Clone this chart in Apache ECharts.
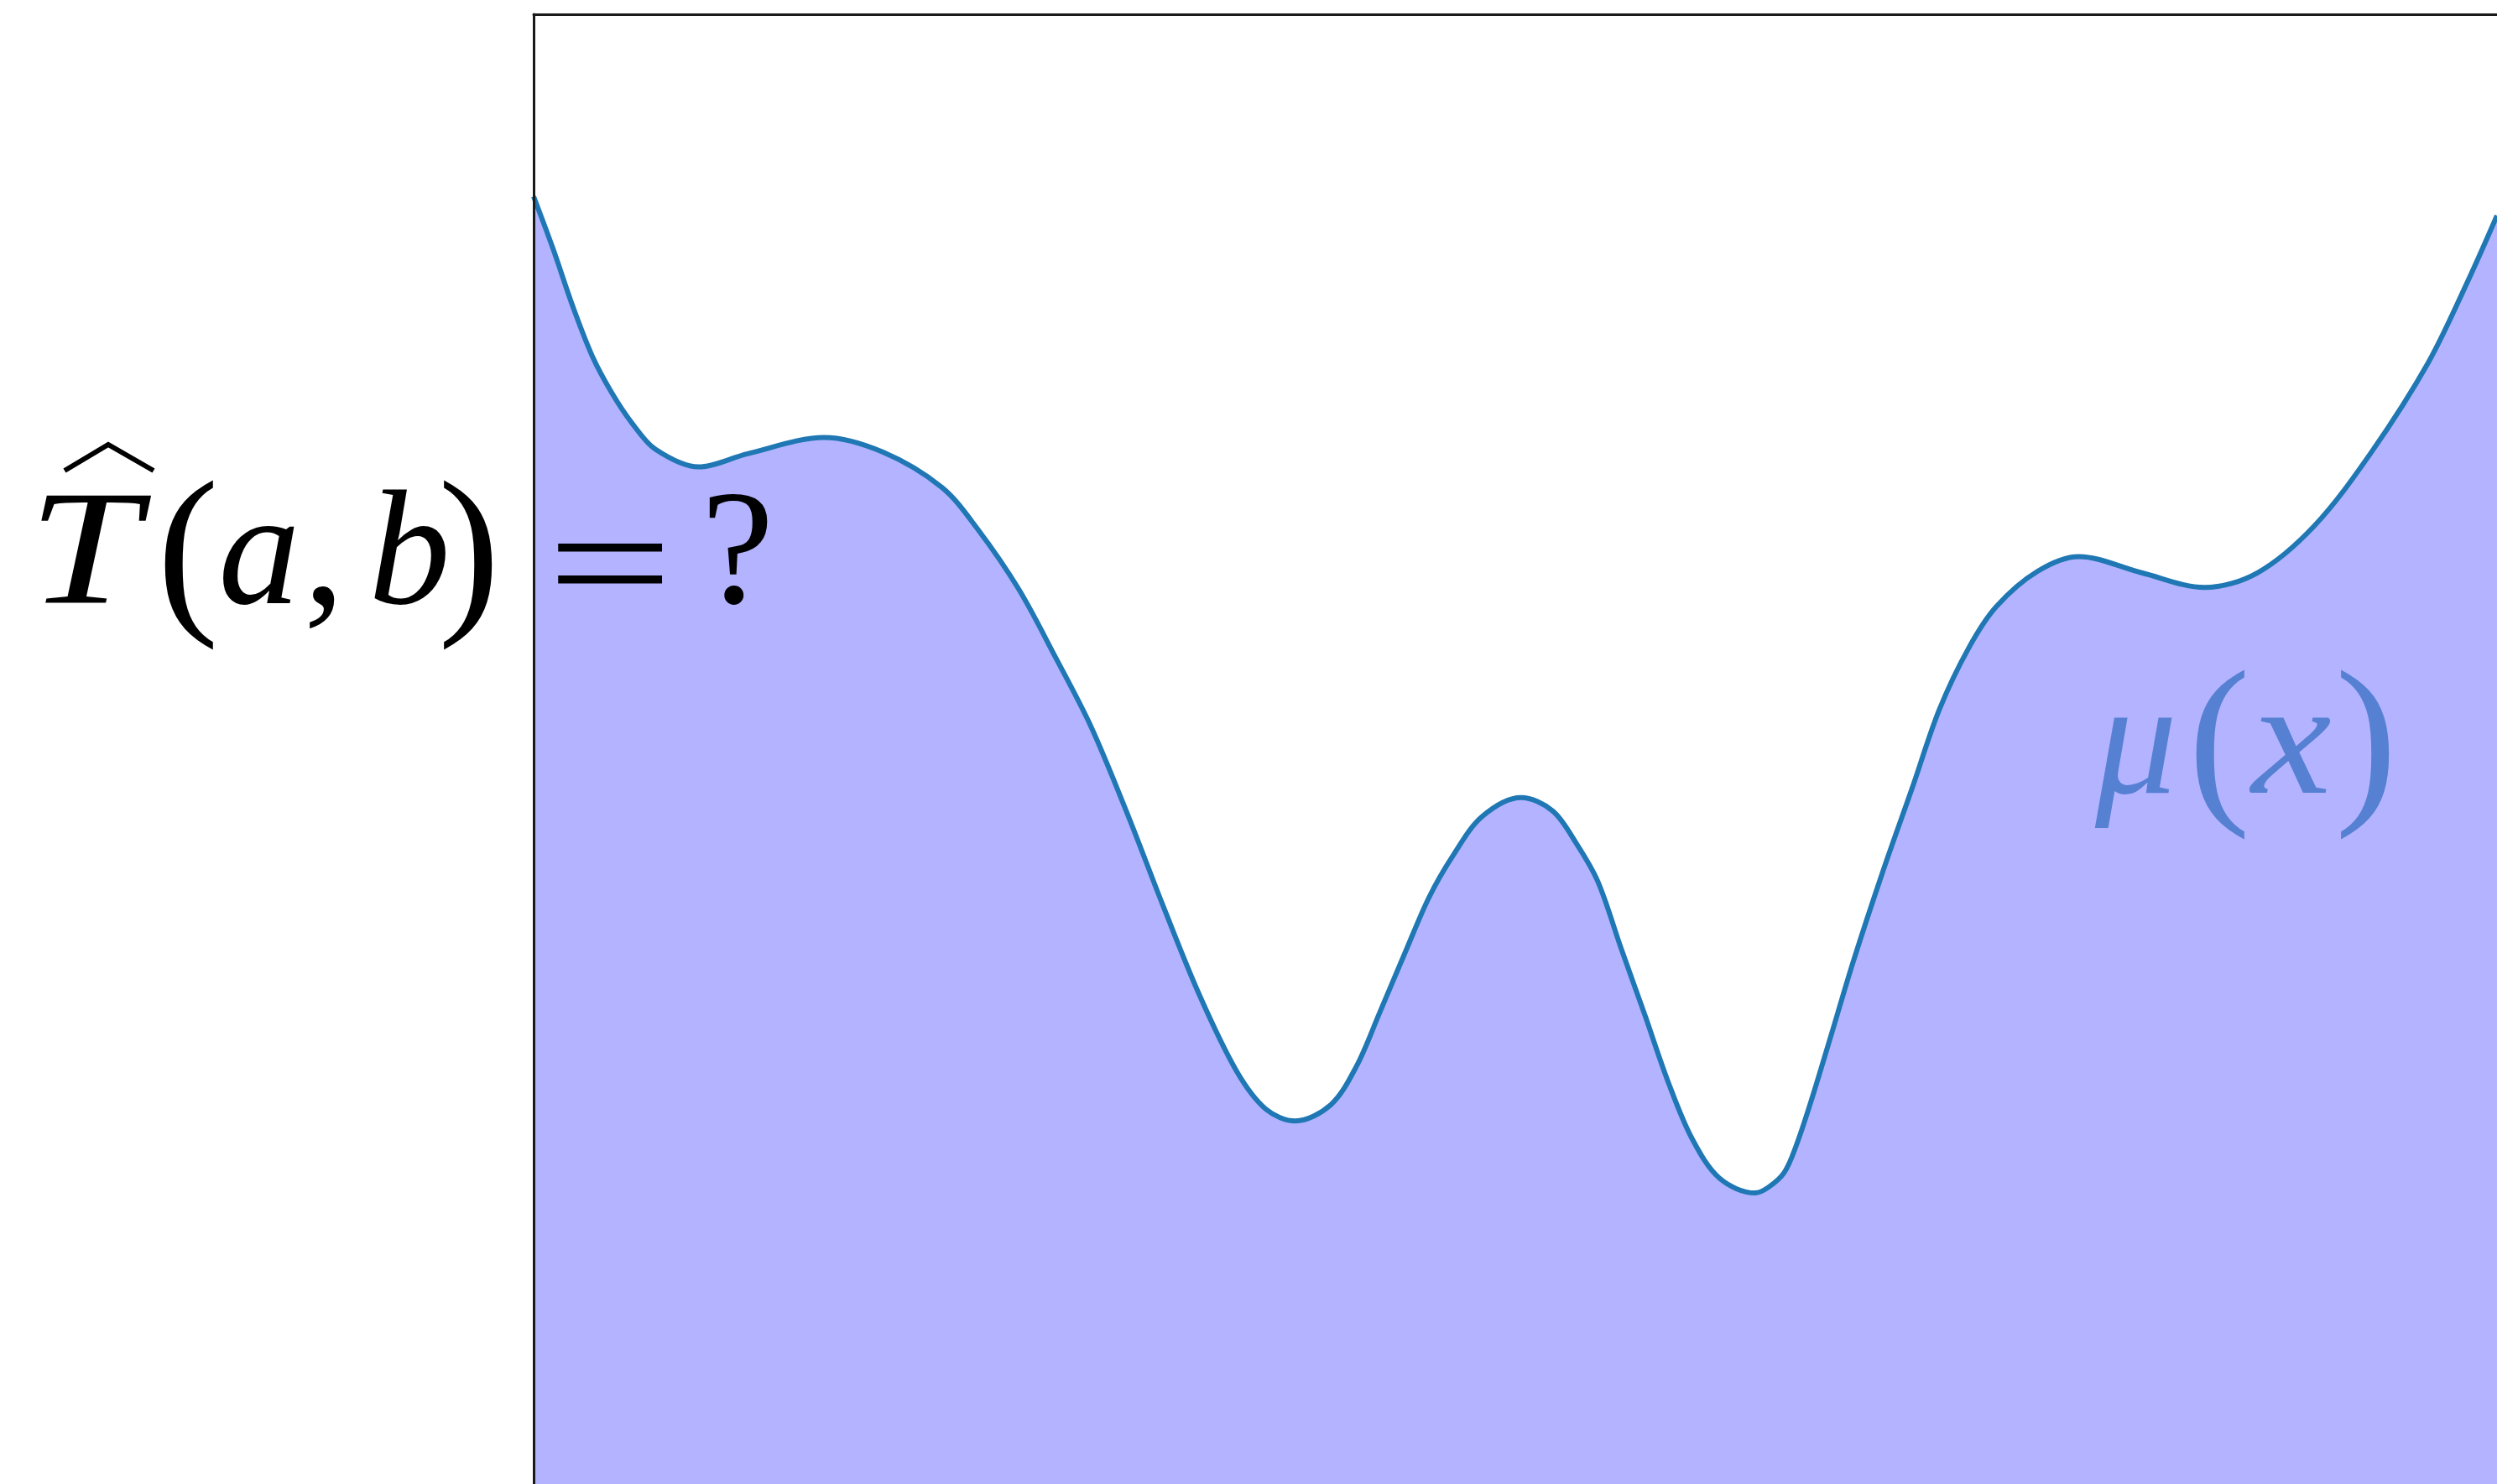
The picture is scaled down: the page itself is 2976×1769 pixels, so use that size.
<!DOCTYPE html>
<html>
<head>
<meta charset="utf-8">
<script src="https://cdn.jsdelivr.net/npm/echarts@6/dist/echarts.min.js"></script>
<style>
  html,body{margin:0;padding:0;background:#fff;}
  #chart{width:2976px;height:1769px;}
</style>
</head>
<body>
<div id="chart"></div>
<script>
// position along the interval (0 = left frame) and height of mu(x)
var xs = [0, 0.10, 0.20, 0.30, 0.40, 0.50, 0.62, 0.84, 1.09,
  1.48, 1.78, 2.08, 2.26, 2.47, 2.66, 2.84, 3.03, 3.21, 3.39,
  3.58, 3.73, 3.88, 4.06, 4.19, 4.31, 4.44, 4.56, 4.68, 4.83,
  5.03, 5.19, 5.31, 5.42, 5.54, 5.66, 5.78, 5.90, 6.04, 6.22,
  6.29, 6.37, 6.43, 6.51, 6.61, 6.72, 6.87, 7.02, 7.16, 7.31,
  7.45, 7.66, 7.87, 8.19, 8.51, 8.78, 9.07, 9.36, 9.65, 9.85,
  10.0];
var mu = [8.76, 8.40, 8.01, 7.67, 7.42, 7.22, 7.04, 6.92, 7.01,
  7.12, 7.02, 6.78, 6.50, 6.09, 5.62, 5.15, 4.54, 3.92, 3.33,
  2.81, 2.55, 2.47, 2.58, 2.84, 3.21, 3.62, 3.99, 4.27, 4.54,
  4.67, 4.58, 4.36, 4.10, 3.64, 3.19, 2.73, 2.35, 2.08, 1.98,
  2.02, 2.12, 2.30, 2.62, 3.06, 3.55, 4.16, 4.73, 5.27, 5.69,
  5.97, 6.21, 6.31, 6.20, 6.10, 6.20, 6.52, 7.02, 7.63, 8.18,
  8.63];

var points = xs.map(function (x, i) { return [x, mu[i]]; });

var chart = echarts.init(document.getElementById('chart'));

var serif = '"Liberation Serif", "Times New Roman", serif';
// one glyph of the formulas; baseline is the text baseline in px
function glyph(txt, cx, baseline, size, italic, color, sx) {
  return {
    type: 'text',
    z: 100,
    x: cx,
    y: baseline - 0.263 * size,
    scaleX: sx || 1,
    style: {
      text: txt,
      fill: color || '#000',
      fontFamily: serif,
      fontSize: size,
      fontStyle: italic ? 'italic' : 'normal',
      align: 'center',
      verticalAlign: 'middle'
    }
  };
}
var muColor = '#5680d2';

chart.setOption({
  animation: false,
  backgroundColor: '#fff',
  grid: {
    left: 636,
    top: 17,
    width: 2340,
    height: 1752,
    containLabel: false
  },
  xAxis: {
    type: 'value',
    min: 0,
    max: 10,
    position: 'top',
    z: 10,
    axisLine: {show: true, onZero: false, lineStyle: {color: '#1a1a1a', width: 3}},
    axisTick: {show: false},
    axisLabel: {show: false},
    splitLine: {show: false}
  },
  yAxis: {
    type: 'value',
    min: 0,
    max: 10,
    position: 'left',
    z: 10,
    axisLine: {show: true, onZero: false, lineStyle: {color: '#1a1a1a', width: 3}},
    axisTick: {show: false},
    axisLabel: {show: false},
    splitLine: {show: false}
  },
  series: [{
    name: 'mu',
    type: 'line',
    data: points,
    smooth: 0.33,
    showSymbol: false,
    lineStyle: {color: '#1f77b4', width: 6},
    areaStyle: {color: '#b3b3ff', opacity: 1, origin: 'start'}
  }],
  graphic: [
    // widehat over T
    {
      type: 'polyline', z: 100,
      shape: {points: [[77, 561], [129, 530], [183, 561]]},
      style: {stroke: '#000', lineWidth: 6, fill: null}
    },
    glyph('T', 100, 719, 195, true, null, 1.22),
    glyph('(', 224, 727, 222, false),
    glyph('a', 309, 719, 195, true),
    glyph(',', 386, 719, 195, false),
    glyph('b', 488, 719, 195, true),
    glyph(')', 559, 727, 222, false),
    glyph('=', 727, 735, 190, false, null, 1.4),
    glyph('?', 879, 718, 195, false),
    glyph('μ', 2546, 945, 195, true, muColor),
    glyph('(', 2645, 953, 222, false, muColor),
    glyph('x', 2731, 945, 195, true, muColor, 1.1),
    glyph(')', 2820, 953, 222, false, muColor)
  ]
});
</script>
</body>
</html>
